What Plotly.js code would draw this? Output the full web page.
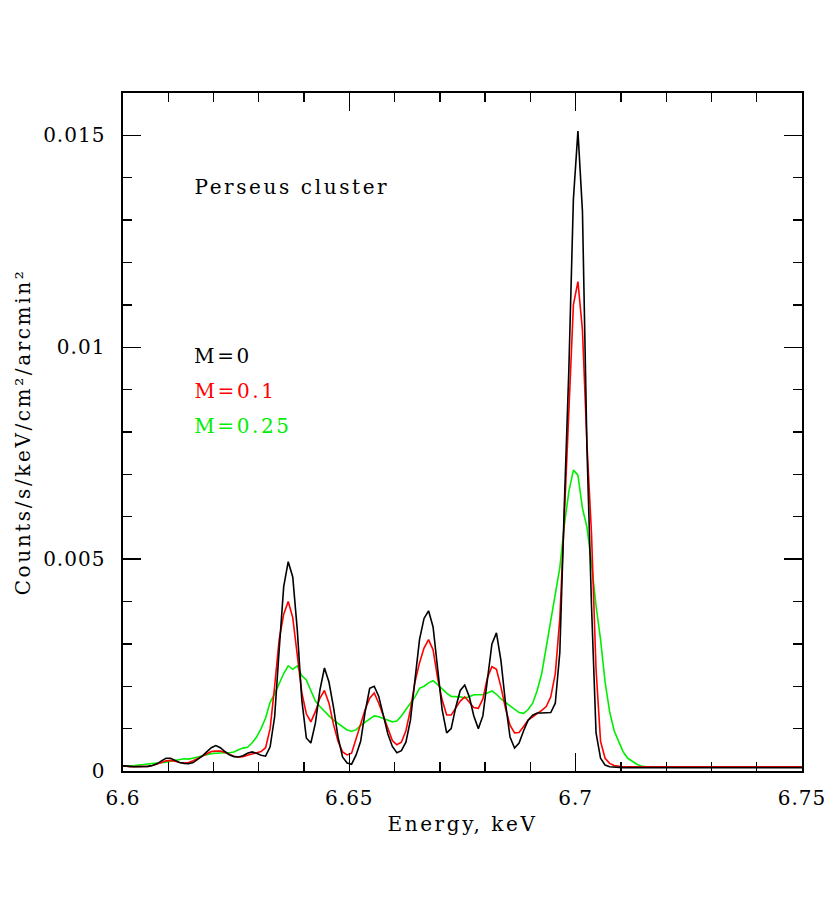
<!DOCTYPE html>
<html>
<head>
<meta charset="utf-8">
<script src="https://cdn.plot.ly/plotly-3.0.1.min.js"></script>
<style>
html,body{margin:0;padding:0;background:#fff;}
#chart{width:830px;height:911px;}
#chart .xtitle, #chart .ytitle, #chart .annotation-text{letter-spacing:2.6px;}
#chart .xtick text, #chart .ytick text{letter-spacing:1px;}
</style>
</head>
<body>
<div id="chart"></div>
<script>
// Energy grid (keV)
const energy = [
6.6000,6.6005,6.6015,6.6025,6.6035,6.6045,6.6055,6.6065,6.6075,6.6085,6.6095,
6.6105,6.6115,6.6125,6.6135,6.6145,6.6155,6.6165,6.6175,6.6185,6.6195,
6.6205,6.6215,6.6225,6.6235,6.6245,6.6255,6.6265,6.6275,6.6285,6.6295,
6.6305,6.6315,6.6325,6.6335,6.6345,6.6355,6.6365,6.6375,6.6385,6.6395,
6.6405,6.6415,6.6425,6.6435,6.6445,6.6455,6.6465,6.6475,6.6485,6.6495,
6.6505,6.6515,6.6525,6.6535,6.6545,6.6555,6.6565,6.6575,6.6585,6.6595,
6.6605,6.6615,6.6625,6.6635,6.6645,6.6655,6.6665,6.6675,6.6685,6.6695,
6.6705,6.6715,6.6725,6.6735,6.6745,6.6755,6.6765,6.6775,6.6785,6.6795,
6.6805,6.6815,6.6825,6.6835,6.6845,6.6855,6.6865,6.6875,6.6885,6.6895,
6.6905,6.6915,6.6925,6.6935,6.6945,6.6955,6.6965,6.6975,6.6985,6.6995,
6.7005,6.7015,6.7025,6.7035,6.7045,6.7055,6.7065,6.7075,6.7085,6.7095,
6.7105,6.7115,6.7125,6.7135,6.7145,6.7155,6.7165,6.7175,6.7185,6.7195,
6.7300,6.7400,6.7500
];

// M = 0 (black)
const fluxM0 = [
0.00012,0.00012,0.00011,0.00010,0.00010,0.00010,0.00011,0.00013,0.00017,0.00024,0.00030,
0.00030,0.00025,0.00020,0.00018,0.00017,0.00020,0.00027,0.00035,0.00045,0.00055,
0.00060,0.00055,0.00046,0.00038,0.00034,0.00033,0.00036,0.00042,0.00045,0.00042,
0.00037,0.00035,0.00057,0.00128,0.00286,0.00435,0.00494,0.00458,0.00333,0.00168,
0.00078,0.00066,0.00113,0.00191,0.00243,0.00210,0.00151,0.00080,0.00033,0.00019,
0.00016,0.00038,0.00070,0.00140,0.00195,0.00200,0.00176,0.00130,0.00088,0.00058,
0.00043,0.00048,0.00068,0.00120,0.00220,0.00310,0.00360,0.00378,0.00340,0.00250,
0.00145,0.00090,0.00100,0.00150,0.00190,0.00203,0.00175,0.00130,0.00100,0.00130,
0.00220,0.00300,0.00326,0.00260,0.00160,0.00080,0.00054,0.00066,0.00095,0.00120,
0.00132,0.00137,0.00137,0.00137,0.00138,0.00160,0.00280,0.00630,0.00950,0.01350,
0.01510,0.01320,0.00760,0.00390,0.00090,0.00030,0.00014,0.00010,0.00009,0.00009,
0.00008,0.00008,0.00008,0.00008,0.00008,0.00008,0.00008,0.00008,0.00008,0.00008,
0.00008,0.00008,0.00008
];

// M = 0.1 (red)
const fluxM01 = [
0.00012,0.00012,0.00010,0.00010,0.00010,0.00010,0.00011,0.00013,0.00016,0.00020,0.00024,
0.00025,0.00023,0.00020,0.00019,0.00020,0.00024,0.00030,0.00036,0.00042,0.00046,
0.00047,0.00047,0.00044,0.00040,0.00035,0.00033,0.00034,0.00037,0.00040,0.00043,
0.00046,0.00055,0.00100,0.00200,0.00310,0.00370,0.00400,0.00362,0.00280,0.00185,
0.00135,0.00116,0.00140,0.00172,0.00190,0.00160,0.00110,0.00070,0.00045,0.00038,
0.00042,0.00075,0.00108,0.00145,0.00172,0.00184,0.00160,0.00130,0.00100,0.00072,
0.00062,0.00068,0.00095,0.00145,0.00210,0.00255,0.00290,0.00310,0.00286,0.00220,
0.00168,0.00132,0.00132,0.00148,0.00165,0.00175,0.00163,0.00150,0.00148,0.00170,
0.00220,0.00246,0.00240,0.00198,0.00148,0.00108,0.00090,0.00091,0.00105,0.00120,
0.00128,0.00135,0.00143,0.00152,0.00175,0.00230,0.00360,0.00600,0.00860,0.01100,
0.01155,0.01040,0.00770,0.00560,0.00240,0.00070,0.00030,0.00018,0.00013,0.00011,
0.00010,0.00010,0.00010,0.00010,0.00010,0.00010,0.00010,0.00010,0.00010,0.00010,
0.00010,0.00010,0.00010
];

// M = 0.25 (green)
const fluxM025 = [
0.00012,0.00012,0.00012,0.00013,0.00014,0.00015,0.00016,0.00017,0.00018,0.00020,0.00021,
0.00023,0.00025,0.00027,0.00029,0.00028,0.00030,0.00033,0.00036,0.00039,0.00041,
0.00042,0.00043,0.00043,0.00043,0.00045,0.00050,0.00054,0.00056,0.00066,0.00080,
0.00100,0.00125,0.00162,0.00182,0.00205,0.00230,0.00248,0.00240,0.00248,0.00225,
0.00215,0.00188,0.00165,0.00152,0.00140,0.00130,0.00120,0.00113,0.00104,0.00097,
0.00094,0.00097,0.00108,0.00116,0.00124,0.00130,0.00128,0.00124,0.00120,0.00116,
0.00118,0.00130,0.00145,0.00160,0.00175,0.00195,0.00200,0.00208,0.00213,0.00204,
0.00193,0.00184,0.00176,0.00175,0.00175,0.00172,0.00175,0.00180,0.00180,0.00180,
0.00184,0.00189,0.00181,0.00170,0.00162,0.00154,0.00146,0.00138,0.00136,0.00145,
0.00160,0.00190,0.00230,0.00290,0.00350,0.00420,0.00480,0.00580,0.00660,0.00710,
0.00698,0.00620,0.00575,0.00490,0.00390,0.00310,0.00210,0.00140,0.00095,0.00070,
0.00045,0.00030,0.00022,0.00016,0.00012,0.00010,0.00010,0.00010,0.00010,0.00010,
0.00010,0.00010,0.00010
];

const seriesNames = ["M=0", "M=0.1", "M=0.25"];
const seriesColors = ["#000000", "#ff0000", "#00ee00"];
const xTickVals = [6.6, 6.65, 6.7, 6.75];
const xTickText = ["6.6", "6.65", "6.7", "6.75"];
const yTickVals = [0, 0.005, 0.01, 0.015];
const yTickText = ["0", "0.005", "0.01", "0.015"];

const font = "DejaVu Serif, serif";
const LETTER_SP = 2.6;      // px, matches CSS letter-spacing above
const PLOT_W = 830 - 123 - 28;
// Plotly centres annotation text in a box measured without letter-spacing;
// shift right by half the added width so the text starts at the wanted spot.
const padShift = s => (s.length * LETTER_SP / 2) / PLOT_W;

const fluxes = [fluxM0, fluxM01, fluxM025];
const traces = fluxes.map((f, i) => ({
  x: energy, y: f, type: "scatter", mode: "lines", name: seriesNames[i],
  line: {color: seriesColors[i], width: 1.6}, showlegend: false
}));
traces.reverse();

const label = "Perseus cluster";
const annotations = [
  {text: label, xref: "paper", yref: "paper", x: 0.102 + padShift(label), y: 0.861, xanchor: "left", yanchor: "middle", showarrow: false, font: {family: font, size: 20, color: "#000"}},
];
seriesNames.forEach((n, i) => annotations.push({
  text: n, xref: "paper", yref: "paper", x: 0.102 + padShift(n), y: 0.612 - i * 0.0515,
  xanchor: "left", yanchor: "middle", showarrow: false,
  font: {family: font, size: 20, color: seriesColors[i]}
}));

const layout = {
  width: 830, height: 911,
  margin: {l: 123, r: 28, t: 93, b: 140},
  paper_bgcolor: "#fff", plot_bgcolor: "#fff",
  font: {family: font, size: 20, color: "#000"},
  xaxis: {
    range: [6.6, 6.75], tickvals: xTickVals, ticktext: xTickText,
    ticks: "inside", ticklen: 18, tickwidth: 1.3, tickcolor: "#000",
    minor: {dtick: 0.01, tick0: 6.6, ticks: "inside", ticklen: 9, tickwidth: 1.3, tickcolor: "#000"},
    showline: true, linewidth: 1.6, linecolor: "#000", mirror: "ticks",
    showgrid: false, zeroline: false, ticklabelstandoff: 8,
    title: {text: "Energy, keV", font: {family: font, size: 20}, standoff: 8}
  },
  yaxis: {
    range: [0, 0.016], tickvals: yTickVals, ticktext: yTickText,
    ticks: "inside", ticklen: 18, tickwidth: 1.3, tickcolor: "#000",
    minor: {dtick: 0.001, tick0: 0, ticks: "inside", ticklen: 9, tickwidth: 1.3, tickcolor: "#000"},
    showline: true, linewidth: 1.6, linecolor: "#000", mirror: "ticks",
    showgrid: false, zeroline: false, ticklabelstandoff: 12,
    title: {text: "Counts/s/keV/cm²/arcmin²", font: {family: font, size: 20}, standoff: 12}
  },
  annotations: annotations
};

Plotly.newPlot("chart", traces, layout, {staticPlot: true});
</script>
</body>
</html>
